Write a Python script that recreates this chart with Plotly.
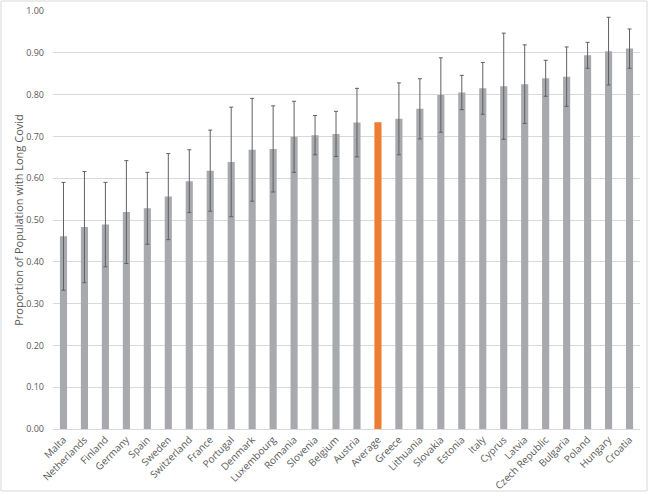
import plotly.graph_objects as go

countries = ["Malta", "Netherlands", "Finland", "Germany", "Spain", "Sweden", "Switzerland",
             "France", "Portugal", "Denmark", "Luxembourg", "Romania", "Slovenia", "Belgium",
             "Austria", "Average", "Greece", "Lithuania", "Slovakia", "Estonia", "Italy",
             "Cyprus", "Latvia", "Czech Republic", "Bulgaria", "Poland", "Hungary", "Croatia"]
values = [0.461, 0.483, 0.489, 0.519, 0.528, 0.556, 0.593, 0.618, 0.639, 0.668, 0.670,
          0.699, 0.703, 0.706, 0.733, 0.734, 0.742, 0.766, 0.799, 0.805, 0.815,
          0.820, 0.825, 0.839, 0.843, 0.894, 0.904, 0.910]
errors = [0.129, 0.133, 0.101, 0.123, 0.086, 0.103, 0.075, 0.097, 0.131, 0.123, 0.103,
          0.085, 0.047, 0.054, 0.082, 0.0, 0.086, 0.072, 0.089, 0.041, 0.062,
          0.127, 0.094, 0.043, 0.071, 0.031, 0.081, 0.047]
tick_vals = [0.0, 0.1, 0.2, 0.3, 0.4, 0.5, 0.6, 0.7, 0.8, 0.9, 1.0]

GRAY = "#A7A9AC"
ORANGE = "#ED7D31"

cx, cy, ce = [], [], []
ax, ay = [], []
for c, v, e in zip(countries, values, errors):
    if c == "Average":
        ax.append(c); ay.append(v)
    else:
        cx.append(c); cy.append(v); ce.append(e)

fig = go.Figure()
fig.add_trace(go.Bar(
    x=cx, y=cy,
    marker=dict(color=GRAY, line=dict(width=0)),
    error_y=dict(type="data", array=ce, visible=True,
                 color="#5F6062", thickness=1, width=2),
    showlegend=False,
))
fig.add_trace(go.Bar(
    x=ax, y=ay,
    marker=dict(color=ORANGE, line=dict(width=0)),
    showlegend=False,
))

font = "Open Sans, Segoe UI, sans-serif"
fig.update_layout(
    width=650, height=497,
    margin=dict(l=53, r=10, t=11, b=68, autoexpand=False),
    paper_bgcolor="white", plot_bgcolor="white",
    barmode="overlay",
    bargap=0.66,
    font=dict(family=font, color="#595959", size=10),
    xaxis=dict(tickangle=-45, tickfont=dict(size=10, color="#595959"),
               categoryorder="array", categoryarray=countries,
               showgrid=False, showline=True, linecolor="#D9D9D9", linewidth=1,
               ticks="", fixedrange=True, automargin=False),
    yaxis=dict(range=[0, 1.0], tickvals=tick_vals, tickformat=".2f",
               tickfont=dict(size=9, color="#595959"),
               showgrid=True, gridcolor="#D9D9D9", gridwidth=1,
               zeroline=False, showline=False, ticks="", automargin=False,
               ticklabelstandoff=8, fixedrange=True,
               title=dict(text="Proportion of Population with Long Covid",
                          font=dict(size=11, color="#595959"), standoff=0)),
    shapes=[dict(type="rect", xref="paper", yref="paper",
                 x0=(1 - 53) / 587, x1=(647 - 53) / 587,
                 y0=(418 + 11 - 491) / 418, y1=(429 - 1) / 418,
                 line=dict(color="#D9D9D9", width=1), fillcolor="rgba(0,0,0,0)",
                 layer="below")],
)

fig.write_html("out.html",
               config={"displayModeBar": False},
               post_script="document.body.style.margin='0';document.body.style.overflow='hidden';")
